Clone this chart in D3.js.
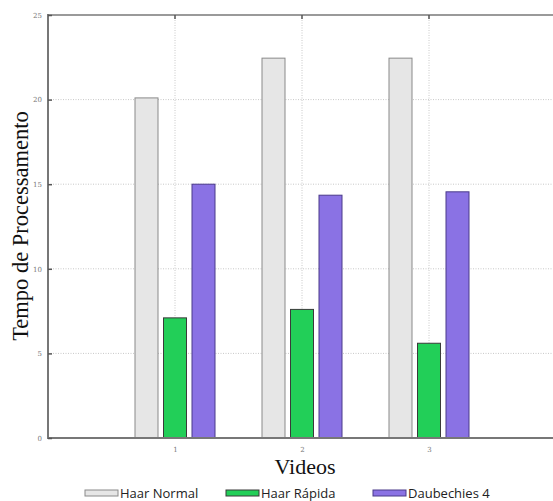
<!DOCTYPE html>
<html><head><meta charset="utf-8">
<script src="https://cdn.jsdelivr.net/npm/d3@7"></script>
<style>body{margin:0;background:#fff}</style>
</head><body>
<svg id="c" width="553" height="501"></svg>
<script>
const categories = [1, 2, 3];
const seriesNames = ["Haar Normal", "Haar Rápida", "Daubechies 4"];
const haarNormal = [20.1, 22.45, 22.45];
const haarRapida = [7.1, 7.6, 5.6];
const daubechies4 = [15.0, 14.35, 14.55];
const yTicks = [0, 5, 10, 15, 20, 25];
const colors = ["#e6e6e6", "#22cf58", "#8a72e4"];
const strokes = ["#8a8a8a", "#3a3a3a", "#4a3a8a"];

const svg = d3.select("#c");
const L = 48, R = 556, T = 15, B = 438;
const x = d3.scaleLinear().domain([0, 4]).range([L, R]);
const y = d3.scaleLinear().domain([0, 25]).range([B, T]);
const series = [haarNormal, haarRapida, daubechies4];

// grid
const g = svg.append("g");
g.selectAll(".hg").data(yTicks.slice(1, 5)).enter().append("line")
  .attr("x1", L).attr("x2", 553).attr("y1", d => y(d)).attr("y2", d => y(d))
  .attr("stroke", "#c8c8c8").attr("stroke-width", 1).attr("stroke-dasharray", "1,1.5");
g.selectAll(".vg").data(categories).enter().append("line")
  .attr("x1", d => x(d)).attr("x2", d => x(d)).attr("y1", T).attr("y2", B)
  .attr("stroke", "#c8c8c8").attr("stroke-width", 1).attr("stroke-dasharray", "1,1.5");

// bars
const bw = 23, step = 28.5;
series.forEach((s, i) => {
  svg.append("g").selectAll("rect").data(s).enter().append("rect")
    .attr("x", (d, j) => x(categories[j]) + (i - 1) * step - bw / 2)
    .attr("y", d => y(d))
    .attr("width", bw)
    .attr("height", d => B - y(d))
    .attr("fill", colors[i]).attr("stroke", strokes[i]).attr("stroke-width", 1);
});

// axes frame
svg.append("line").attr("x1", L).attr("x2", 553).attr("y1", T).attr("y2", T)
  .attr("stroke", "#9a9a9a").attr("stroke-width", 2);
svg.append("line").attr("x1", L).attr("x2", 553).attr("y1", B).attr("y2", B)
  .attr("stroke", "#777").attr("stroke-width", 2);
svg.append("line").attr("x1", L).attr("x2", L).attr("y1", T - 1).attr("y2", B + 1)
  .attr("stroke", "#777").attr("stroke-width", 2);

// y ticks
const yAxis = d3.axisLeft(y).tickValues(yTicks).tickSize(-4).tickPadding(6).tickFormat(d3.format("d"));
const ya = svg.append("g").attr("transform", `translate(${L},0)`).call(yAxis);
ya.select(".domain").remove();
ya.selectAll("line").attr("stroke", "#555").attr("stroke-width", 1.5);
ya.selectAll("text").attr("font-family", "DejaVu Serif, serif").attr("font-size", 7).attr("fill", "#777");

// x ticks
const xAxis = d3.axisBottom(x).tickValues(categories).tickSize(0).tickPadding(9).tickFormat(d3.format("d"));
const xa = svg.append("g").attr("transform", `translate(0,${B})`).call(xAxis);
xa.select(".domain").remove();
xa.selectAll("text").attr("font-family", "DejaVu Serif, serif").attr("font-size", 7).attr("fill", "#777");
// top tick marks
svg.selectAll(".tt").data(categories).enter().append("line")
  .attr("x1", d => x(d)).attr("x2", d => x(d)).attr("y1", T).attr("y2", T + 4)
  .attr("stroke", "#555").attr("stroke-width", 1.5);

// axis labels
svg.append("text").attr("x", 305).attr("y", 474).attr("text-anchor", "middle")
  .attr("font-family", "Liberation Serif, serif").attr("font-size", 22).attr("fill", "#111").text("Videos");
svg.append("text").attr("transform", "translate(28,226) rotate(-90)").attr("text-anchor", "middle")
  .attr("font-family", "Liberation Serif, serif").attr("font-size", 22.5).attr("fill", "#111").text("Tempo de Processamento");

// legend
const legX = [85, 226, 373];
const lg = svg.append("g");
seriesNames.forEach((n, i) => {
  lg.append("rect").attr("x", legX[i]).attr("y", 490).attr("width", 33).attr("height", 6)
    .attr("fill", colors[i]).attr("stroke", strokes[i]).attr("stroke-width", 1);
  lg.append("text").attr("x", legX[i] + 35).attr("y", 497.5)
    .attr("font-family", "Open Sans, sans-serif").attr("font-size", 13).attr("fill", "#222").text(n);
});
</script>
</body></html>
